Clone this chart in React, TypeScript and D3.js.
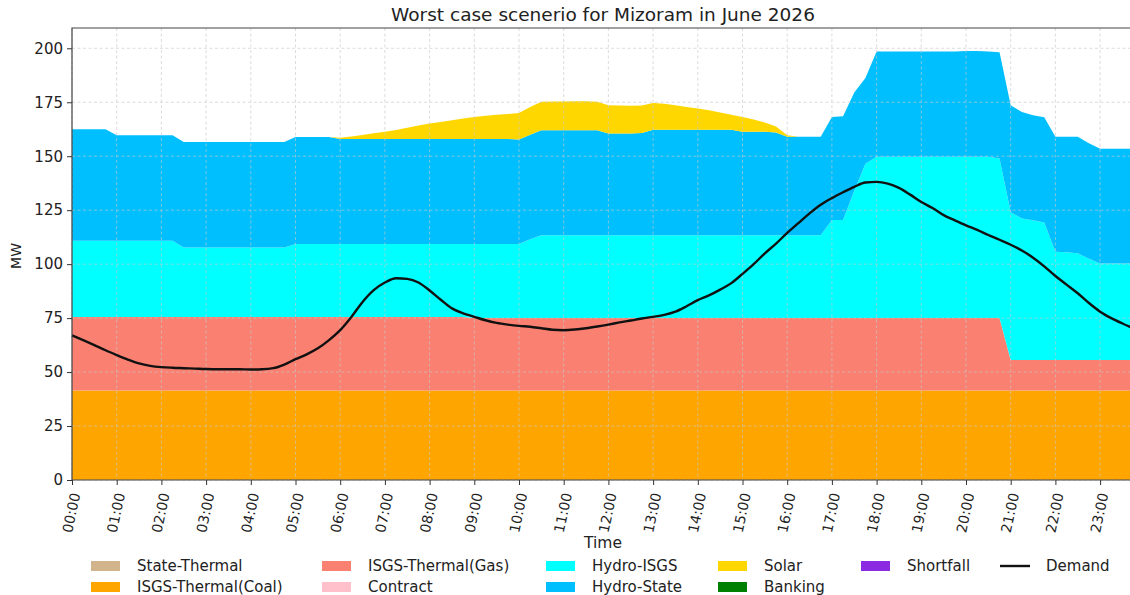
import React, { useEffect, useRef } from 'react'
import * as d3 from 'd3'

const W = 1130
const H = 595
const plotLeft = 72
const plotTop = 28
const plotBottom = 480
const hourPx = 44.7

// quarter-hour slots 00:00 .. 23:45 (hours)
const slots = d3.range(96).map(i => i / 4)
const hourTicks = d3.range(24)
const yTicks = [0, 25, 50, 75, 100, 125, 150, 175, 200]

// MW per block, rows of 12 (3 hours each)
const stateThermal = [
  0, 0, 0, 0, 0, 0, 0, 0, 0, 0, 0, 0,
  0, 0, 0, 0, 0, 0, 0, 0, 0, 0, 0, 0,
  0, 0, 0, 0, 0, 0, 0, 0, 0, 0, 0, 0,
  0, 0, 0, 0, 0, 0, 0, 0, 0, 0, 0, 0,
  0, 0, 0, 0, 0, 0, 0, 0, 0, 0, 0, 0,
  0, 0, 0, 0, 0, 0, 0, 0, 0, 0, 0, 0,
  0, 0, 0, 0, 0, 0, 0, 0, 0, 0, 0, 0,
  0, 0, 0, 0, 0, 0, 0, 0, 0, 0, 0, 0
]
const isgsCoal = [
  41.5, 41.5, 41.5, 41.5, 41.5, 41.5, 41.5, 41.5, 41.5, 41.5, 41.5, 41.5,
  41.5, 41.5, 41.5, 41.5, 41.5, 41.5, 41.5, 41.5, 41.5, 41.5, 41.5, 41.5,
  41.5, 41.5, 41.5, 41.5, 41.5, 41.5, 41.5, 41.5, 41.5, 41.5, 41.5, 41.5,
  41.5, 41.5, 41.5, 41.5, 41.5, 41.5, 41.5, 41.5, 41.5, 41.5, 41.5, 41.5,
  41.5, 41.5, 41.5, 41.5, 41.5, 41.5, 41.5, 41.5, 41.5, 41.5, 41.5, 41.5,
  41.5, 41.5, 41.5, 41.5, 41.5, 41.5, 41.5, 41.5, 41.5, 41.5, 41.5, 41.5,
  41.5, 41.5, 41.5, 41.5, 41.5, 41.5, 41.5, 41.5, 41.5, 41.5, 41.5, 41.5,
  41.5, 41.5, 41.5, 41.5, 41.5, 41.5, 41.5, 41.5, 41.5, 41.5, 41.5, 41.5
]
const isgsGas = [
  34.0, 34.0, 34.0, 34.0, 34.0, 34.0, 34.0, 34.0, 34.0, 34.0, 34.0, 34.0,
  34.0, 34.0, 34.0, 34.0, 34.0, 34.0, 34.0, 34.0, 34.0, 34.0, 34.0, 34.0,
  34.0, 34.0, 34.0, 34.0, 34.0, 34.0, 34.0, 34.0, 34.0, 34.0, 34.0, 34.0,
  33.6, 33.6, 33.6, 33.6, 33.6, 33.6, 33.6, 33.6, 33.6, 33.6, 33.6, 33.6,
  33.6, 33.6, 33.6, 33.6, 33.6, 33.6, 33.6, 33.6, 33.6, 33.6, 33.6, 33.6,
  33.6, 33.6, 33.6, 33.6, 33.6, 33.6, 33.6, 33.6, 33.6, 33.6, 33.6, 33.6,
  33.6, 33.6, 33.6, 33.6, 33.6, 33.6, 33.6, 33.6, 33.6, 33.6, 33.6, 33.6,
  14.1, 14.1, 14.1, 14.1, 14.1, 14.1, 14.1, 14.1, 14.1, 14.1, 14.1, 14.1
]
const contract = stateThermal.map(() => 0)
const hydroIsgs = [
  35.3, 35.3, 35.3, 35.3, 35.3, 35.3, 35.3, 35.3, 35.3, 35.3, 32.2, 32.2,
  32.2, 32.2, 32.2, 32.2, 32.2, 32.2, 32.2, 32.2, 33.8, 33.8, 33.8, 33.8,
  33.8, 33.8, 33.8, 33.8, 33.8, 33.8, 33.8, 33.8, 33.8, 33.8, 33.8, 33.8,
  34.2, 34.2, 34.2, 34.2, 34.2, 36.4, 38.3, 38.3, 38.3, 38.3, 38.3, 38.3,
  38.3, 38.3, 38.3, 38.3, 38.3, 38.3, 38.3, 38.3, 38.3, 38.3, 38.3, 38.3,
  38.3, 38.3, 38.3, 38.3, 38.3, 38.3, 38.3, 38.3, 45.3, 45.3, 58.9, 71.4,
  74.6, 74.6, 74.6, 74.6, 74.6, 74.6, 74.6, 74.6, 74.6, 74.6, 74.6, 73.9,
  68.4, 65.6, 64.7, 63.7, 50.1, 49.9, 49.4, 46.9, 44.7, 44.7, 44.7, 44.7
]
const hydroState = [
  51.7, 51.7, 51.7, 51.7, 48.9, 48.9, 48.9, 48.9, 48.9, 48.9, 48.9, 48.9,
  48.9, 48.9, 48.9, 48.9, 48.9, 48.9, 48.9, 48.9, 49.6, 49.6, 49.6, 49.6,
  48.7, 48.7, 48.7, 48.7, 48.7, 48.7, 48.7, 48.7, 48.7, 48.7, 48.7, 48.7,
  48.7, 48.7, 48.7, 48.7, 48.5, 48.5, 48.6, 48.6, 48.6, 48.6, 48.6, 48.6,
  47.1, 47.1, 47.1, 47.3, 48.9, 48.9, 48.9, 48.9, 48.9, 48.9, 48.9, 48.9,
  47.9, 47.9, 47.9, 47.6, 45.6, 45.6, 45.6, 45.6, 47.8, 48.1, 45.5, 39.7,
  48.8, 48.8, 48.8, 48.8, 48.8, 48.8, 48.8, 48.8, 49.1, 49.1, 48.8, 49.2,
  49.6, 49.3, 48.7, 48.7, 53.3, 53.5, 54.0, 53.5, 53.2, 53.2, 53.2, 53.2
]
const solar = [
  0, 0, 0, 0, 0, 0, 0, 0, 0, 0, 0, 0,
  0, 0, 0, 0, 0, 0, 0, 0, 0, 0, 0, 0,
  0.5, 1.1, 1.8, 2.6, 3.3, 4.2, 5.2, 6.2, 7.1, 7.9, 8.7, 9.5,
  10.2, 10.7, 11.2, 11.6, 12.2, 12.8, 13.2, 13.3, 13.4, 13.5, 13.5, 13.2,
  13.1, 13.0, 12.9, 12.8, 12.4, 12.0, 11.3, 10.5, 9.8, 9.0, 8.0, 6.9,
  6.9, 5.7, 4.3, 2.8, 0.7, 0, 0, 0, 0, 0, 0, 0,
  0, 0, 0, 0, 0, 0, 0, 0, 0, 0, 0, 0,
  0, 0, 0, 0, 0, 0, 0, 0, 0, 0, 0, 0
]
const banking = stateThermal.map(() => 0)
const shortfall = stateThermal.map(() => 0)
const demand = [
  67.0, 64.8, 62.5, 60.1, 57.9, 55.8, 54.0, 52.9, 52.3, 52.0, 51.8, 51.6,
  51.4, 51.3, 51.3, 51.3, 51.2, 51.3, 51.8, 53.5, 56.0, 58.2, 61.0, 64.8,
  69.4, 75.5, 82.5, 88.0, 91.5, 93.5, 93.2, 91.5, 87.8, 83.5, 79.5, 77.2,
  75.6, 74.0, 72.8, 72.0, 71.4, 71.0, 70.3, 69.6, 69.4, 69.7, 70.3, 71.1,
  72.0, 73.0, 73.9, 74.8, 75.6, 76.5, 78.0, 80.5, 83.3, 85.5, 88.2, 91.2,
  95.5, 100.0, 105.0, 109.5, 114.5, 119.0, 123.5, 127.5, 130.6, 133.3, 135.8, 137.8,
  138.1, 137.3, 135.3, 132.2, 128.8, 126.0, 122.7, 120.3, 118.0, 115.9, 113.5, 111.3,
  109.0, 106.3, 103.0, 99.0, 94.5, 90.5, 86.5, 82.0, 78.0, 75.0, 72.5, 70.2
]

const sources = [
  { key: 'State-Thermal', values: stateThermal, color: '#d2b48c' },
  { key: 'ISGS-Thermal(Coal)', values: isgsCoal, color: '#ffa500' },
  { key: 'ISGS-Thermal(Gas)', values: isgsGas, color: '#fa8072' },
  { key: 'Contract', values: contract, color: '#ffc0cb' },
  { key: 'Hydro-ISGS', values: hydroIsgs, color: '#00ffff' },
  { key: 'Hydro-State', values: hydroState, color: '#00bfff' },
  { key: 'Solar', values: solar, color: '#ffd700' },
  { key: 'Banking', values: banking, color: '#008000' },
  { key: 'Shortfall', values: shortfall, color: '#8a2be2' }
]

const font = 'DejaVu Sans, sans-serif'

const App = () => {
  const svgRef = useRef(null)

  useEffect(() => {
    const svg = d3.select(svgRef.current)
    svg.selectAll('*').remove()

    const x = d3
      .scaleLinear()
      .domain([0, 23.75])
      .range([plotLeft, plotLeft + 23.75 * hourPx])
    const y = d3
      .scaleLinear()
      .domain([0, 209.4])
      .range([plotBottom, plotTop])

    const table = slots.map((t, i) => {
      const row = { t }
      sources.forEach(s => (row[s.key] = s.values[i]))
      return row
    })
    const stacked = d3.stack().keys(sources.map(s => s.key))(table)

    const area = d3
      .area()
      .x(d => x(d.data.t))
      .y0(d => y(d[0]))
      .y1(d => y(d[1]))

    // stacked sources (no outline, so empty series leave no trace)
    svg
      .append('g')
      .selectAll('path')
      .data(stacked)
      .join('path')
      .attr('d', area)
      .attr('fill', (d, i) => sources[i].color)

    // dashed grid over the fills
    const grid = svg.append('g').attr('stroke', '#c8c8c8').attr('stroke-width', 0.9).attr('stroke-dasharray', '3,2.5').attr('opacity', 0.7)
    grid
      .selectAll('.vx')
      .data(hourTicks)
      .join('line')
      .attr('x1', d => x(d))
      .attr('x2', d => x(d))
      .attr('y1', plotTop)
      .attr('y2', plotBottom)
    grid
      .selectAll('.hy')
      .data(yTicks)
      .join('line')
      .attr('x1', plotLeft)
      .attr('x2', W)
      .attr('y1', d => y(d))
      .attr('y2', d => y(d))

    // demand line
    const line = d3
      .line()
      .x((d, i) => x(slots[i]))
      .y(d => y(d))
      .curve(d3.curveMonotoneX)
    svg
      .append('path')
      .datum(demand)
      .attr('d', line)
      .attr('fill', 'none')
      .attr('stroke', '#111')
      .attr('stroke-width', 2.4)
      .attr('stroke-linejoin', 'round')

    // spines
    svg
      .append('path')
      .attr('d', `M${W},${plotTop}H${plotLeft}V${plotBottom}H${W}`)
      .attr('fill', 'none')
      .attr('stroke', '#444')
      .attr('stroke-width', 1.2)

    // y axis
    const yAxis = svg
      .append('g')
      .attr('transform', `translate(${plotLeft},0)`)
      .call(d3.axisLeft(y).tickValues(yTicks).tickSize(5).tickPadding(4))
    yAxis.select('.domain').remove()
    yAxis.selectAll('text').attr('font-family', font).attr('font-size', 15).attr('fill', '#222')
    yAxis.selectAll('line').attr('stroke', '#333')

    // x axis
    const xAxis = svg
      .append('g')
      .attr('transform', `translate(0,${plotBottom})`)
      .call(
        d3
          .axisBottom(x)
          .tickValues(hourTicks)
          .tickSize(5)
          .tickFormat(d => d3.format('02d')(d) + ':00')
      )
    xAxis.select('.domain').remove()
    xAxis.selectAll('line').attr('stroke', '#333')
    xAxis
      .selectAll('text')
      .attr('font-family', font)
      .attr('font-size', 14)
      .attr('fill', '#222')
      .attr('text-anchor', 'end')
      .attr('dy', '0.35em')
      .attr('y', 0)
      .attr('transform', `translate(3,13) rotate(-78)`)

    // titles
    svg
      .append('text')
      .attr('x', 603)
      .attr('y', 21)
      .attr('text-anchor', 'middle')
      .attr('font-family', font)
      .attr('font-size', 18.5)
      .attr('fill', '#222')
      .text('Worst case scenerio for Mizoram in June 2026')
    svg
      .append('text')
      .attr('x', 603)
      .attr('y', 548)
      .attr('text-anchor', 'middle')
      .attr('font-family', font)
      .attr('font-size', 15.5)
      .attr('fill', '#222')
      .text('Time')
    svg
      .append('text')
      .attr('transform', 'translate(21,256) rotate(-90)')
      .attr('text-anchor', 'middle')
      .attr('font-family', font)
      .attr('font-size', 14)
      .attr('fill', '#222')
      .text('MW')

    // legend, column-major like matplotlib ncol=6
    const legendItems = [...sources.map(s => ({ label: s.key, color: s.color, kind: 'patch' })), { label: 'Demand', color: '#111', kind: 'line' }]
    const colX = [91, 322, 546, 718, 861, 1000]
    const colCounts = [2, 2, 2, 2, 1, 1]
    const rowY = [566, 587]
    let k = 0
    const lg = svg.append('g').attr('font-family', font).attr('font-size', 15).attr('fill', '#222')
    colCounts.forEach((n, c) => {
      for (let r = 0; r < n; r++) {
        const it = legendItems[k++]
        const g = lg.append('g').attr('transform', `translate(${colX[c]},${rowY[r]})`)
        if (it.kind === 'patch') {
          g.append('rect').attr('x', 0).attr('y', -5).attr('width', 29).attr('height', 10).attr('fill', it.color)
        } else {
          g.append('line').attr('x1', 0).attr('x2', 30).attr('y1', 0).attr('y2', 0).attr('stroke', it.color).attr('stroke-width', 2.4)
        }
        g.append('text').attr('x', 46).attr('y', 0).attr('dy', '0.35em').text(it.label)
      }
    })
  }, [])

  return (
    <svg
      ref={svgRef}
      width={W}
      height={H}
      style={{ position: 'absolute', left: 0, top: 0, background: '#fff', display: 'block' }}
    />
  )
}

export default App
